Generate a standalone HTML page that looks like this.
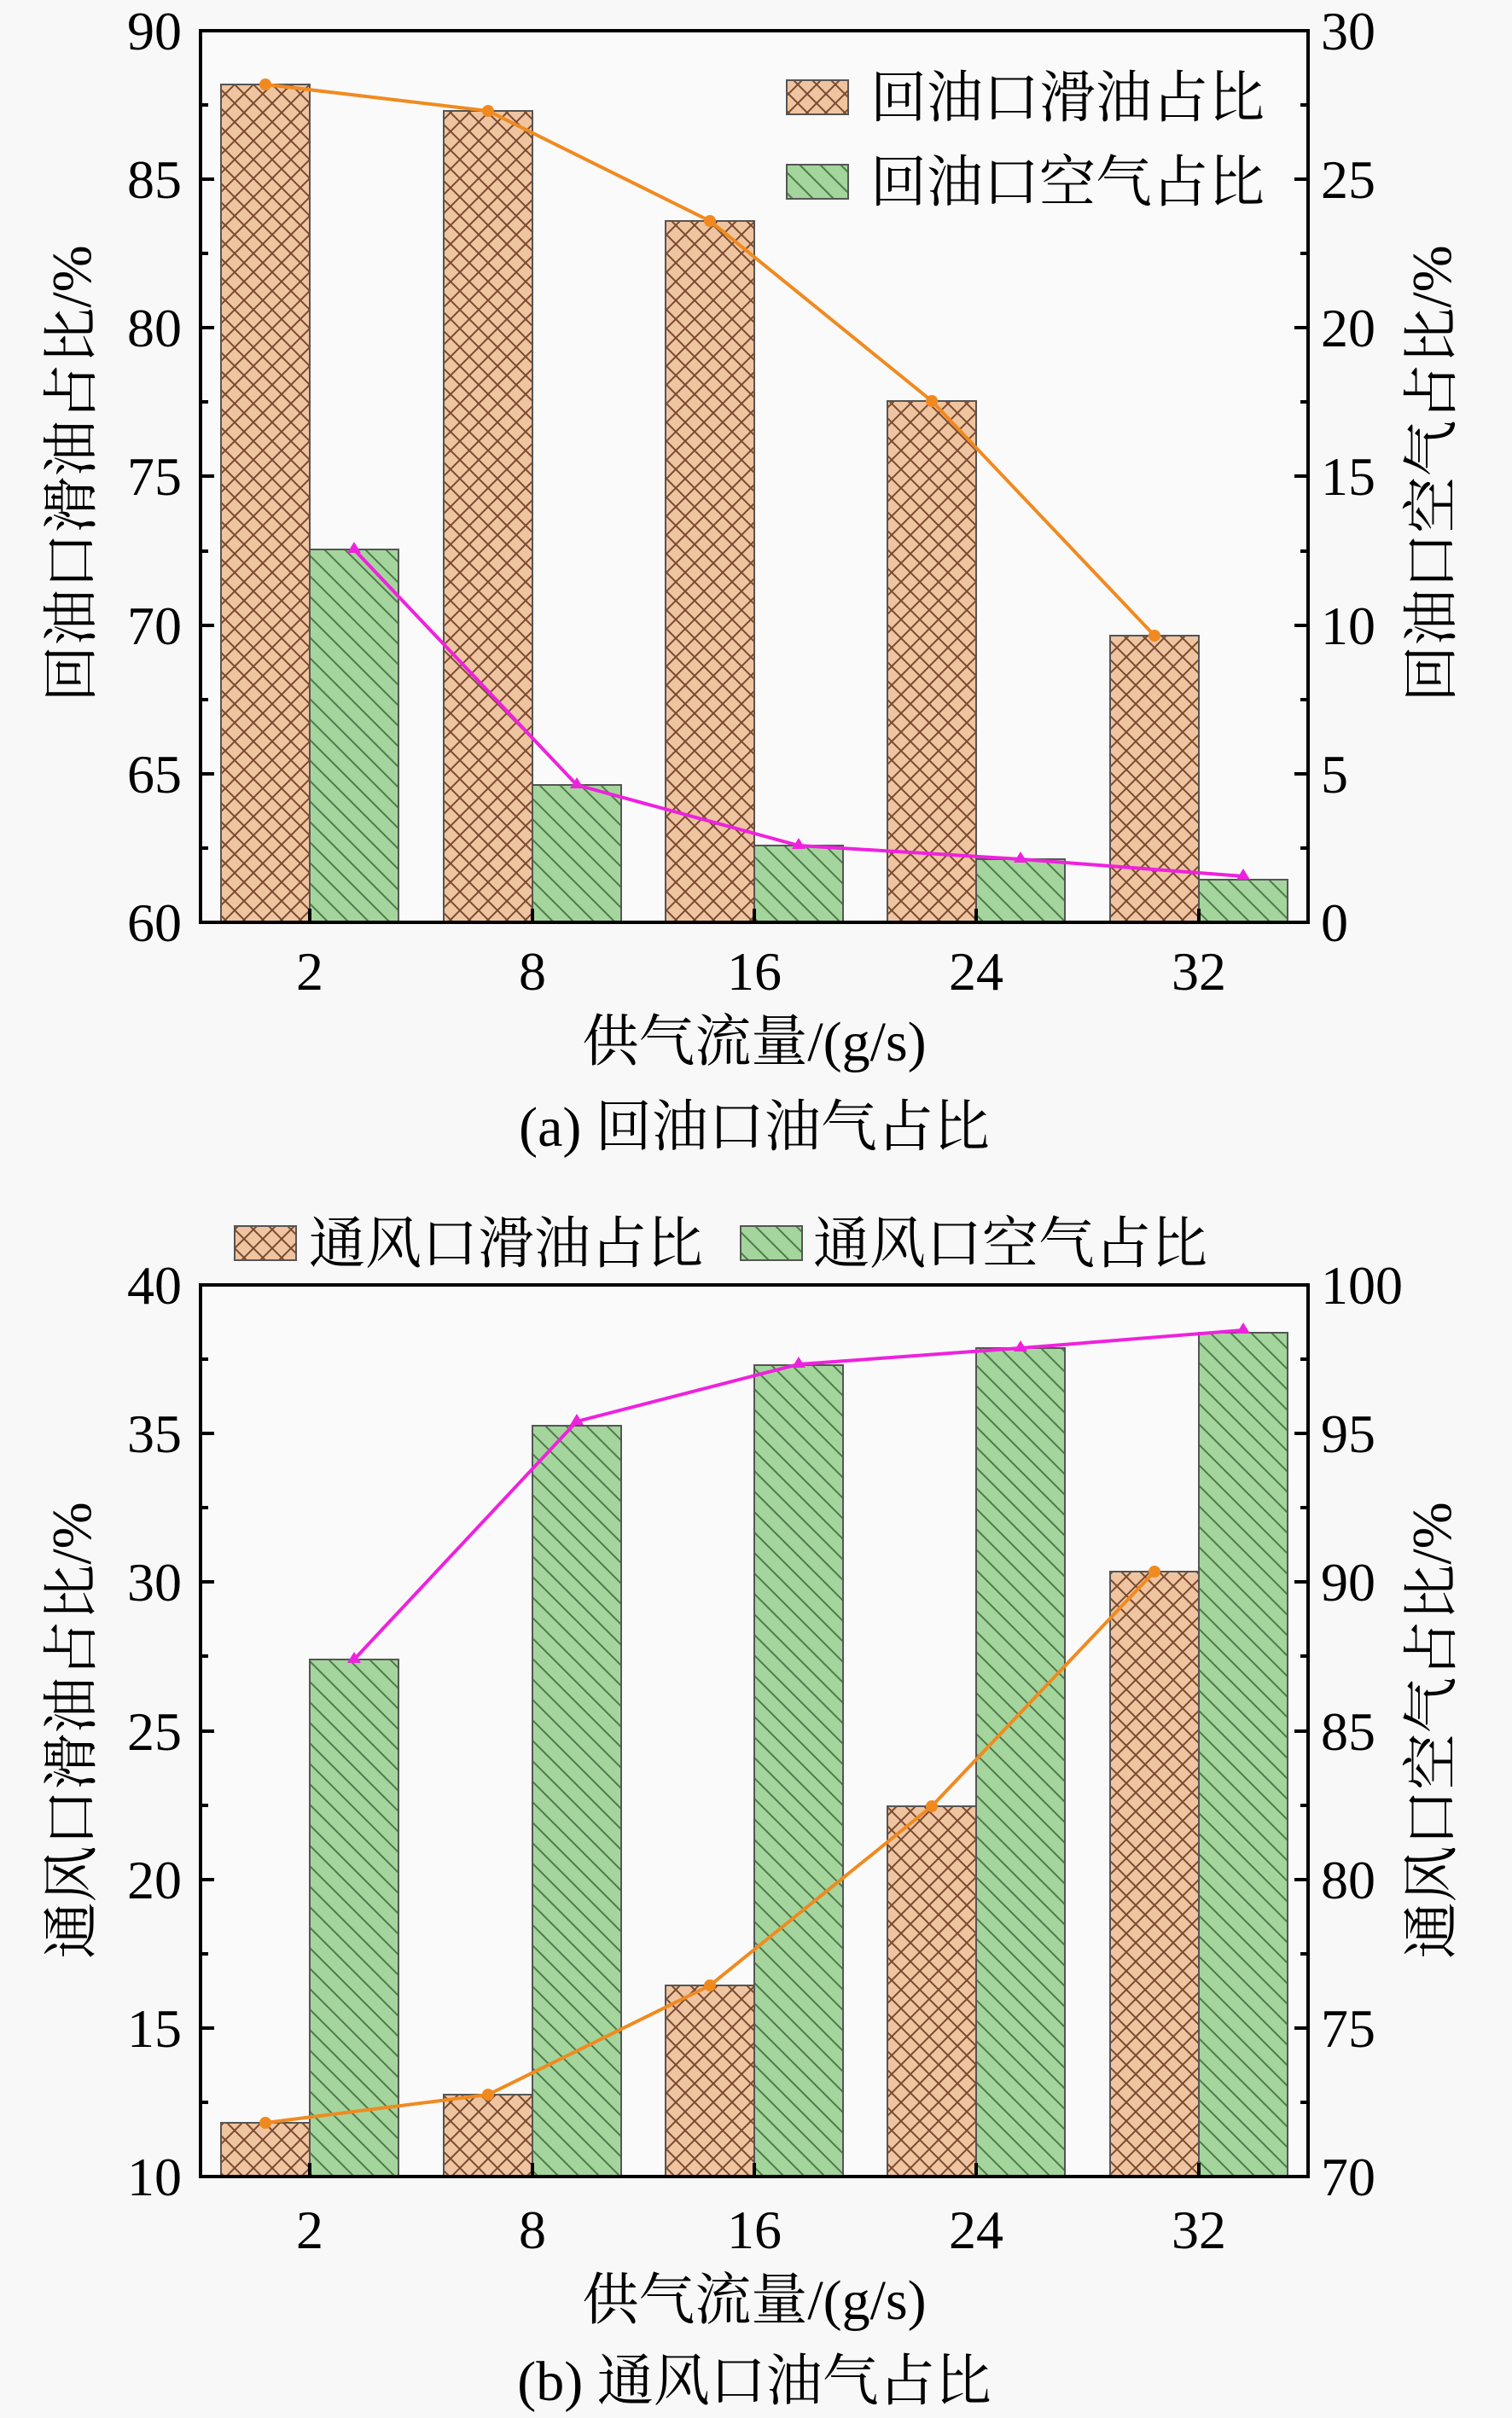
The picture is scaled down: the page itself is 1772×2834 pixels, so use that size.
<!DOCTYPE html>
<html><head><meta charset="utf-8"><style>body{margin:0;background:#f8f8f8}svg{display:block}</style></head><body>
<svg width="1772" height="2834" viewBox="0 0 1772 2834" xmlns="http://www.w3.org/2000/svg" font-family="Liberation Serif, Noto Serif CJK SC, serif">
<defs>
<pattern id="po" width="22" height="22" patternUnits="userSpaceOnUse">
<rect width="22" height="22" fill="#efc4a0"/>
<path d="M0 0L22 22M0 22L22 0" stroke="#7a4a30" stroke-width="2"/>
</pattern>
<pattern id="pg" width="24" height="24" patternUnits="userSpaceOnUse">
<rect width="24" height="24" fill="#a3d59c"/>
<path d="M0 0L24 24M-12 12L12 36M12 -12L36 12" stroke="#4f7a4a" stroke-width="2"/>
</pattern>
</defs>
<rect width="1772" height="2834" fill="#f8f8f8"/>

<!-- TOP CHART -->
<g>
<rect x="235" y="36" width="1298" height="1045" fill="#fafafa"/>
<g stroke="#555" stroke-width="2">
<rect x="259" y="99" width="104" height="982" fill="url(#po)"/>
<rect x="520" y="130" width="104" height="951" fill="url(#po)"/>
<rect x="780" y="259" width="104" height="822" fill="url(#po)"/>
<rect x="1040" y="470" width="104" height="611" fill="url(#po)"/>
<rect x="1301" y="745" width="104" height="336" fill="url(#po)"/>
<rect x="363" y="644" width="104" height="437" fill="url(#pg)"/>
<rect x="624" y="920" width="104" height="161" fill="url(#pg)"/>
<rect x="884" y="991" width="104" height="90" fill="url(#pg)"/>
<rect x="1144" y="1007" width="104" height="74" fill="url(#pg)"/>
<rect x="1405" y="1031" width="104" height="50" fill="url(#pg)"/>
</g>
<polyline points="311,99 572,130 832,259 1092,470 1353,745" fill="none" stroke="#f08a20" stroke-width="4"/>
<g fill="#f08a20"><circle cx="311" cy="99" r="7"/><circle cx="572" cy="130" r="7"/><circle cx="832" cy="259" r="7"/><circle cx="1092" cy="470" r="7"/><circle cx="1353" cy="745" r="7"/></g>
<polyline points="415,644 676,920 936,991 1196,1007 1457,1027" fill="none" stroke="#ee22dd" stroke-width="4"/>
<g fill="#ee22dd"><path d="M415 635l8 13h-16z"/><path d="M676 911l8 13h-16z"/><path d="M936 982l8 13h-16z"/><path d="M1196 998l8 13h-16z"/><path d="M1457 1018l8 13h-16z"/></g>
<rect x="235" y="36" width="1298" height="1045" fill="none" stroke="#000" stroke-width="4"/>
<g stroke="#000" stroke-width="4">
<path d="M235 210h16M235 384h16M235 558h16M235 733h16M235 907h16M1533 210h-16M1533 384h-16M1533 558h-16M1533 733h-16M1533 907h-16"/>
<path d="M235 123h9M235 297h9M235 471h9M235 646h9M235 820h9M235 994h9M1533 123h-9M1533 297h-9M1533 471h-9M1533 646h-9M1533 820h-9M1533 994h-9"/>
<path d="M363 1081v-16M624 1081v-16M884 1081v-16M1144 1081v-16M1405 1081v-16"/>
</g>
<g font-size="64" text-anchor="end">
<text x="213" y="58">90</text><text x="213" y="232">85</text><text x="213" y="406">80</text><text x="213" y="580">75</text><text x="213" y="755">70</text><text x="213" y="929">65</text><text x="213" y="1103">60</text>
</g>
<g font-size="64" text-anchor="start">
<text x="1548" y="58">30</text><text x="1548" y="232">25</text><text x="1548" y="406">20</text><text x="1548" y="580">15</text><text x="1548" y="755">10</text><text x="1548" y="929">5</text><text x="1548" y="1103">0</text>
</g>
<g font-size="64" text-anchor="middle">
<text x="363" y="1160">2</text><text x="624" y="1160">8</text><text x="884" y="1160">16</text><text x="1144" y="1160">24</text><text x="1405" y="1160">32</text>
</g>
<g font-size="66" text-anchor="middle">
<text x="884" y="1243">供气流量/(g/s)</text>
<text x="884" y="1343">(a) 回油口油气占比</text>
<text transform="translate(106,555) rotate(-90)">回油口滑油占比/%</text>
<text transform="translate(1700,555) rotate(-90)">回油口空气占比/%</text>
</g>
<rect x="922" y="94" width="72" height="40" fill="url(#po)" stroke="#555" stroke-width="2"/>
<rect x="922" y="193" width="72" height="40" fill="url(#pg)" stroke="#555" stroke-width="2"/>
<g font-size="66"><text x="1020" y="137">回油口滑油占比</text><text x="1020" y="236">回油口空气占比</text></g>
</g>

<!-- BOTTOM CHART -->
<g>
<rect x="235" y="1506" width="1298" height="1045" fill="#fafafa"/>
<g stroke="#555" stroke-width="2">
<rect x="259" y="2488" width="104" height="63" fill="url(#po)"/>
<rect x="520" y="2455" width="104" height="96" fill="url(#po)"/>
<rect x="780" y="2327" width="104" height="224" fill="url(#po)"/>
<rect x="1040" y="2117" width="104" height="434" fill="url(#po)"/>
<rect x="1301" y="1842" width="104" height="709" fill="url(#po)"/>
<rect x="363" y="1945" width="104" height="606" fill="url(#pg)"/>
<rect x="624" y="1671" width="104" height="880" fill="url(#pg)"/>
<rect x="884" y="1600" width="104" height="951" fill="url(#pg)"/>
<rect x="1144" y="1580" width="104" height="971" fill="url(#pg)"/>
<rect x="1405" y="1562" width="104" height="989" fill="url(#pg)"/>
</g>
<polyline points="311,2488 572,2455 832,2327 1092,2117 1353,1842" fill="none" stroke="#f08a20" stroke-width="4"/>
<g fill="#f08a20"><circle cx="311" cy="2488" r="7"/><circle cx="572" cy="2455" r="7"/><circle cx="832" cy="2327" r="7"/><circle cx="1092" cy="2117" r="7"/><circle cx="1353" cy="1842" r="7"/></g>
<polyline points="415,1945 676,1666 936,1599 1196,1580 1457,1559" fill="none" stroke="#ee22dd" stroke-width="4"/>
<g fill="#ee22dd"><path d="M415 1936l8 13h-16z"/><path d="M676 1657l8 13h-16z"/><path d="M936 1590l8 13h-16z"/><path d="M1196 1571l8 13h-16z"/><path d="M1457 1550l8 13h-16z"/></g>
<rect x="235" y="1506" width="1298" height="1045" fill="none" stroke="#000" stroke-width="4"/>
<g stroke="#000" stroke-width="4">
<path d="M235 1680h16M235 1854h16M235 2029h16M235 2203h16M235 2377h16M1533 1680h-16M1533 1854h-16M1533 2029h-16M1533 2203h-16M1533 2377h-16"/>
<path d="M235 1593h9M235 1767h9M235 1941h9M235 2116h9M235 2290h9M235 2464h9M1533 1593h-9M1533 1767h-9M1533 1941h-9M1533 2116h-9M1533 2290h-9M1533 2464h-9"/>
<path d="M363 2551v-16M624 2551v-16M884 2551v-16M1144 2551v-16M1405 2551v-16"/>
</g>
<g font-size="64" text-anchor="end">
<text x="213" y="1528">40</text><text x="213" y="1702">35</text><text x="213" y="1876">30</text><text x="213" y="2051">25</text><text x="213" y="2225">20</text><text x="213" y="2399">15</text><text x="213" y="2573">10</text>
</g>
<g font-size="64" text-anchor="start">
<text x="1548" y="1528">100</text><text x="1548" y="1702">95</text><text x="1548" y="1876">90</text><text x="1548" y="2051">85</text><text x="1548" y="2225">80</text><text x="1548" y="2399">75</text><text x="1548" y="2573">70</text>
</g>
<g font-size="64" text-anchor="middle">
<text x="363" y="2635">2</text><text x="624" y="2635">8</text><text x="884" y="2635">16</text><text x="1144" y="2635">24</text><text x="1405" y="2635">32</text>
</g>
<g font-size="66" text-anchor="middle">
<text x="884" y="2718">供气流量/(g/s)</text>
<text x="884" y="2813">(b) 通风口油气占比</text>
<text transform="translate(106,2028) rotate(-90)">通风口滑油占比/%</text>
<text transform="translate(1700,2028) rotate(-90)">通风口空气占比/%</text>
</g>
<rect x="275" y="1437" width="72" height="40" fill="url(#po)" stroke="#555" stroke-width="2"/>
<rect x="868" y="1437" width="72" height="40" fill="url(#pg)" stroke="#555" stroke-width="2"/>
<g font-size="66"><text x="362" y="1480">通风口滑油占比</text><text x="953" y="1480">通风口空气占比</text></g>
</g>
</svg>
</body></html>
